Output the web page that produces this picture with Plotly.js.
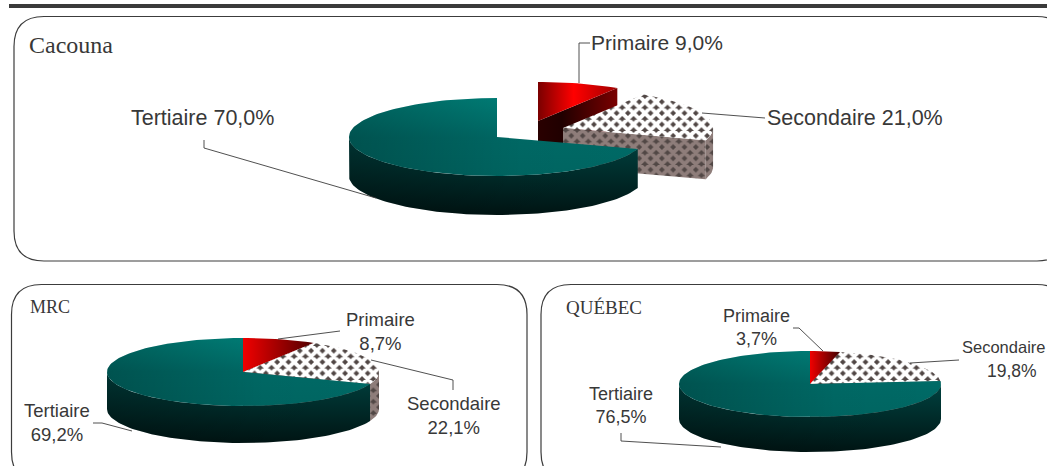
<!DOCTYPE html>
<html><head><meta charset="utf-8">
<script src="https://cdn.plot.ly/plotly-3.0.1.min.js"></script>
<style>html,body{margin:0;padding:0;background:#fff;overflow:hidden}#c{width:1047px;height:466px}</style>
</head><body><div id="c"></div>
<script>
const sectors = ['Primaire', 'Secondaire', 'Tertiaire'];
const cacounaValues = [9.0, 21.0, 70.0];
const mrcValues = [8.7, 22.1, 69.2];
const quebecValues = [3.7, 19.8, 76.5];
const panelNames = ['Cacouna', 'MRC', 'QUÉBEC'];

const W = 1047, H = 466;
const panels = [
  {values: cacounaValues, rx: 148, ry: 39, depth: 39,
   origins: [[538,121,1],[563,128,1.014],[497,137,1]],
   redTop:[[0,'#7a0000'],[0.45,'#ff0000'],[1,'#a00000']], redDir:'horizontal'},
  {values: mrcValues, rx: 136, ry: 34, depth: 37,
   origins: [[243,372,1],[243,372,1],[243,372,1]],
   redTop:[[0,'#f00000'],[1,'#500000']], redDir:'horizontal'},
  {values: quebecValues, rx: 131, ry: 33, depth: 35,
   origins: [[810,384,1],[810,384,1],[810,384,1]],
   redTop:[[0,'#f00000'],[1,'#400000']], redDir:'horizontal'}
];

const rad = d => d * Math.PI / 180;
function arcPts(o, p, a0, a1, dy) {
  const pts = [], n = Math.max(2, Math.ceil(Math.abs(a1 - a0) / 2));
  for (let i = 0; i <= n; i++) {
    const a = rad(a0 + (a1 - a0) * i / n);
    pts.push([o[0] + p.rx * o[2] * Math.sin(a), o[1] - p.ry * o[2] * Math.cos(a) + dy]);
  }
  return pts;
}
function poly(pts, style) {
  const xs = pts.map(q => q[0]).concat(pts[0][0]);
  const ys = pts.map(q => q[1]).concat(pts[0][1]);
  return Object.assign({type:'scatter', mode:'lines', x:xs, y:ys, fill:'toself',
    line:{width:0, color:'rgba(0,0,0,0)'}, hoverinfo:'skip', showlegend:false}, style);
}
const grad = (type, cs) => ({fillgradient:{type, colorscale:cs}});
const dots = (bg, ink) => ({fillcolor:bg, fillpattern:{shape:'x', fgcolor:bg, bgcolor:ink, size:8, solidity:0.74}});
const wallStyle = [
  () => grad('horizontal', [[0,'#2a0000'],[0.3,'#200000'],[1,'#7a0000']]),
  () => dots('#8e7d7a', '#514745'),
  () => grad('vertical', [[0,'#001413'],[1,'#004240']])
];
const shade = [[0,'rgba(0,0,0,0.22)'],[0.6,'rgba(0,0,0,0.02)'],[1,'rgba(0,0,0,0)']];

const traces = [];
panels.forEach(p => {
  let start = 0;
  p.values.forEach((v, i) => {
    const end = start + v * 3.6, o = p.origins[i];
    const apex = [o[0], o[1]];
    const ws = wallStyle[i]();
    if (end < 180) {
      const rim = arcPts(o, p, end, end, 0)[0];
      traces.push(poly([apex, rim, [rim[0], rim[1] + p.depth], [apex[0], apex[1] + p.depth]], ws));
    }
    const a0 = Math.max(start, 90), a1 = Math.min(end, 270);
    if (a1 > a0) {
      const pts = arcPts(o, p, a0, a1, 0).concat(arcPts(o, p, a1, a0, p.depth));
      traces.push(poly(pts, ws));
      if (i === 2) traces.push(poly(pts, grad('horizontal', shade)));
    }
    const top = [apex].concat(arcPts(o, p, start, end, 0));
    if (i === 0) traces.push(poly(top, grad(p.redDir, p.redTop)));
    if (i === 1) traces.push(poly(top, dots('#ffffff', '#514745')));
    if (i === 2) {
      traces.push(poly(top, grad('vertical', [[0,'#006662'],[0.5,'#006a66'],[1,'#008079']])));
      traces.push(poly(top, grad('horizontal', shade)));
    }
    start = end;
  });
});

const pct = v => v.toFixed(1).replace('.', ',') + '%';
const ink = '#383838';
const note = (x, y, text, size, anchor) => ({x, y, xref:'x', yref:'y', text, showarrow:false,
  xanchor: anchor || 'center', yanchor:'middle', align:'center',
  font:{family:'"Liberation Sans", Arial, sans-serif', size, color:ink}});
const heading = (x, y, text, size) => ({x, y, xref:'x', yref:'y', text, showarrow:false,
  xanchor:'left', yanchor:'middle', font:{family:'"Liberation Serif", serif', size, color:ink}});

const annotations = [
  heading(27, 45, panelNames[0], 24),
  heading(28, 307, panelNames[1], 18),
  heading(564, 307, panelNames[2], 19),
  note(589, 42, sectors[0] + ' ' + pct(cacounaValues[0]), 21, 'left'),
  note(765, 118, sectors[1] + ' ' + pct(cacounaValues[1]), 21.5, 'left'),
  note(129, 118, sectors[2] + ' ' + pct(cacounaValues[2]), 21.5, 'left'),
  note(380, 331, sectors[0] + '<br>' + pct(mrcValues[0]), 18.5),
  note(454, 415, sectors[1] + '<br>' + pct(mrcValues[1]), 18.5),
  note(57, 422, sectors[2] + '<br>' + pct(mrcValues[2]), 18.5),
  note(756, 327, sectors[0] + '<br>' + pct(quebecValues[0]), 18),
  note(960, 347, sectors[1], 16.5, 'left'),
  note(1012, 371, pct(quebecValues[1]), 17.5),
  note(621, 405, sectors[2] + '<br>' + pct(quebecValues[2]), 18)
];

function roundBox(l, t, r, b, c) {
  return {type:'path', xref:'x', yref:'y', line:{color:'#3c3c3c', width:1.2},
    path:`M${l+c},${t} L${r-c},${t} Q${r},${t} ${r},${t+c} L${r},${b-c} Q${r},${b} ${r-c},${b} L${l+c},${b} Q${l},${b} ${l},${b-c} L${l},${t+c} Q${l},${t} ${l+c},${t} Z`};
}
const leader = pts => ({type:'path', xref:'x', yref:'y', line:{color:'#3c3c3c', width:0.9},
  path:'M' + pts.map(q => q.join(',')).join(' L')});

const shapes = [
  {type:'rect', xref:'x', yref:'y', x0:9, x1:W, y0:4, y1:8, fillcolor:'#3a3a3a', line:{width:0}},
  roundBox(14, 16.5, 1067, 261, 30),
  roundBox(11.5, 284.5, 527, 482, 30),
  roundBox(541, 284.5, 1067, 482, 30),
  leader([[579,83],[579,43],[590,43]]),
  leader([[702,113],[765,118]]),
  leader([[204,140],[204,148],[376,198]]),
  leader([[278,339],[340,331]]),
  leader([[371,360],[453,380],[453,390]]),
  leader([[93,423],[102,423],[132,431]]),
  leader([[793,328],[799,328],[823,351]]),
  leader([[910,363],[959,360]]),
  leader([[621,433],[621,441],[721,447]])
];

Plotly.newPlot('c', traces, {
  width:W, height:H, margin:{l:0,r:0,t:0,b:0}, paper_bgcolor:'#fff', plot_bgcolor:'#fff', showlegend:false,
  xaxis:{range:[0,W], visible:false, fixedrange:true},
  yaxis:{range:[H,0], visible:false, fixedrange:true},
  annotations, shapes
}, {displayModeBar:false, staticPlot:true});
</script></body></html>
